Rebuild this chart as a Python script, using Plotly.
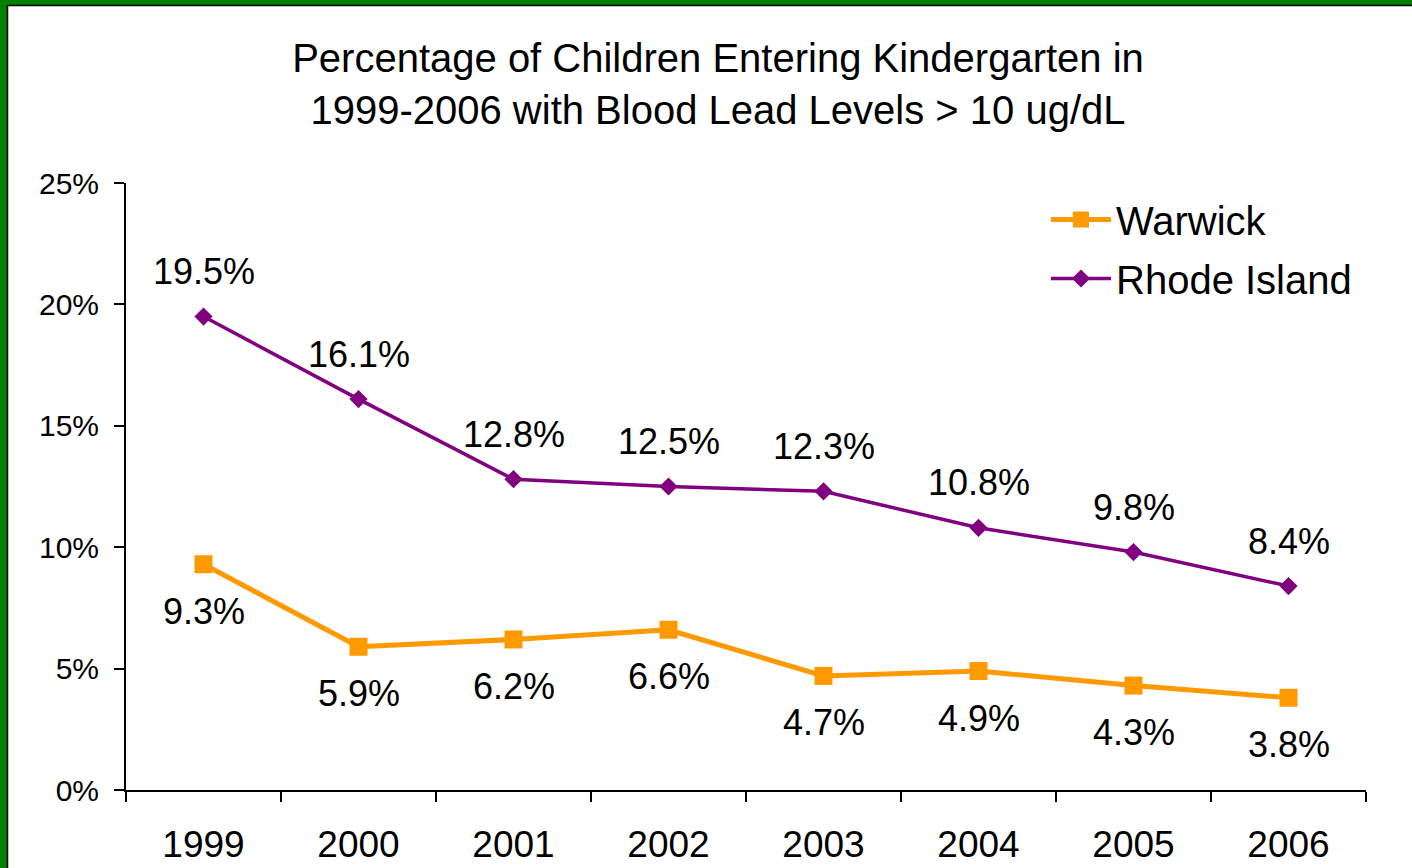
import plotly.graph_objects as go

years = ["1999", "2000", "2001", "2002", "2003", "2004", "2005", "2006"]
warwick = [9.3, 5.9, 6.2, 6.6, 4.7, 4.9, 4.3, 3.8]
rhode_island = [19.5, 16.1, 12.8, 12.5, 12.3, 10.8, 9.8, 8.4]
y_ticks = [0, 5, 10, 15, 20, 25]
y_tick_labels = ["0%", "5%", "10%", "15%", "20%", "25%"]

W, H = 1412, 868
L, R, T, B = 126, 46, 183, 78
pw, ph = W - L - R, H - T - B

def px(x):
    return (x - L) / pw

def py(y):
    return (H - B - y) / ph

FONT = "Liberation Sans, Arial, sans-serif"
ORANGE = "#FF9900"
PURPLE = "#800080"

fig = go.Figure()
fig.add_trace(go.Scatter(
    x=years, y=warwick, name="Warwick", mode="lines+markers",
    line=dict(color=ORANGE, width=5),
    marker=dict(symbol="square", size=18, color=ORANGE),
    legendgroup="a",
))
fig.add_trace(go.Scatter(
    x=years, y=rhode_island, name="Rhode Island", mode="lines+markers",
    line=dict(color=PURPLE, width=3.5),
    marker=dict(symbol="diamond", size=14, color=PURPLE),
    legendgroup="b",
))

for i, v in enumerate(warwick):
    fig.add_annotation(x=i, y=v, xref="x", yref="y", text=f"{v:.1f}%",
                       showarrow=False, yshift=-47, yanchor="middle",
                       font=dict(family=FONT, size=36, color="black"))
for i, v in enumerate(rhode_island):
    fig.add_annotation(x=i, y=v, xref="x", yref="y", text=f"{v:.1f}%",
                       showarrow=False, yshift=45, yanchor="middle",
                       font=dict(family=FONT, size=36, color="black"))

shapes = [
    dict(type="rect", xref="paper", yref="paper", x0=px(0), x1=px(8), y0=py(H + 10), y1=py(0),
         fillcolor="green", line=dict(width=0), layer="below"),
    dict(type="rect", xref="paper", yref="paper", x0=px(0), x1=px(W + 10), y0=py(5.5), y1=py(0),
         fillcolor="green", line=dict(width=0), layer="below"),
    dict(type="line", xref="paper", yref="paper", x0=px(7.5), x1=px(7.5), y0=py(H + 10), y1=py(5.5),
         line=dict(color="black", width=1.5), layer="below"),
    dict(type="line", xref="paper", yref="paper", x0=px(7.5), x1=px(W + 10), y0=py(5.5), y1=py(5.5),
         line=dict(color="black", width=1.5), layer="below"),
]

fig.update_layout(
    width=W, height=H,
    margin=dict(l=L, r=R, t=T, b=B, autoexpand=False),
    paper_bgcolor="white", plot_bgcolor="white",
    font=dict(family=FONT, color="black"),
    title=dict(
        text="Percentage of Children Entering Kindergarten in<br>1999-2006 with Blood Lead Levels > 10 ug/dL",
        x=718 / W, xanchor="center", y=1 - 72 / H, yanchor="middle",
        font=dict(family=FONT, size=40, color="black"),
    ),
    xaxis=dict(
        type="category", showline=True, linecolor="black", linewidth=2,
        ticks="outside", ticklen=10, tickwidth=2, tickcolor="black",
        tickson="boundaries", showgrid=False, zeroline=False,
        tickfont=dict(family=FONT, size=37, color="black"),
        ticklabelstandoff=21,
        range=[-0.5, 7.5],
    ),
    yaxis=dict(
        range=[0, 25], tickvals=y_ticks, ticktext=y_tick_labels,
        showline=True, linecolor="black", linewidth=2,
        ticks="outside", ticklen=10, tickwidth=2, tickcolor="black",
        showgrid=False, zeroline=False,
        tickfont=dict(family=FONT, size=30, color="black"),
        ticklabelstandoff=9,
    ),
    legend=dict(
        x=px(1046), y=py(187), xanchor="left", yanchor="top",
        bgcolor="rgba(0,0,0,0)", font=dict(family=FONT, size=40, color="black"),
        traceorder="grouped", tracegroupgap=4, itemwidth=60,
    ),
    shapes=shapes,
)

fig.write_html("out.html", config={"displayModeBar": False},
               post_script="document.body.style.margin='0';")
